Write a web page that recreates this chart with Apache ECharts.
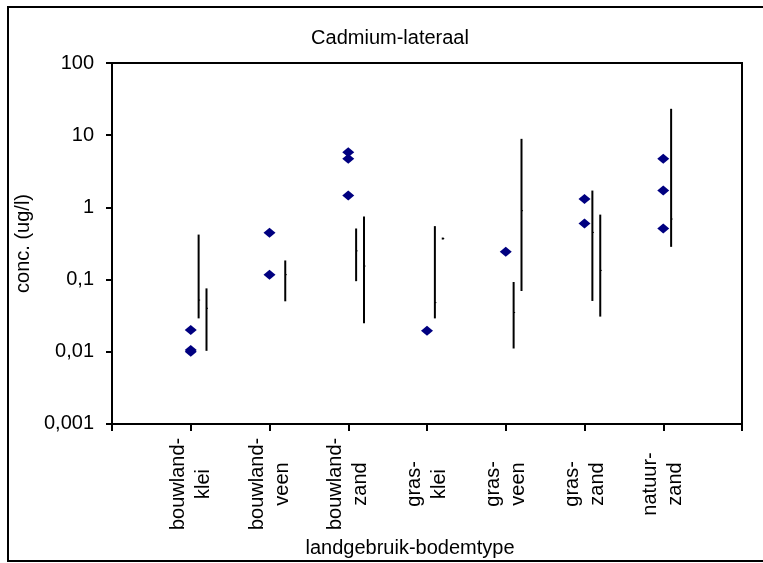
<!DOCTYPE html>
<html>
<head>
<meta charset="utf-8">
<script src="https://cdn.jsdelivr.net/npm/echarts@6/dist/echarts.min.js"></script>
<style>
  html, body { margin: 0; padding: 0; background: #fff; }
  #chart { width: 763px; height: 563px; }
</style>
</head>
<body>
<div id="chart"></div>
<script>
const categories = ["bouwland-\nklei", "bouwland-\nveen", "bouwland-\nzand", "gras-\nklei", "gras-\nveen", "gras-\nzand", "natuur-\nzand"];
const yTickLabels = ["0,001", "0,01", "0,1", "1", "10", "100"];

// measured points (diamonds): category number + concentration
const pointCategory = [1, 1, 1, 2, 2, 3, 3, 3, 4, 5, 6, 6, 7, 7, 7];
const pointValues = [0.02, 0.01, 0.0106, 0.445, 0.117, 5.8, 4.7, 1.46, 0.0195, 0.243, 1.31, 0.6, 4.7, 1.71, 0.51];

// first range per category (null = none)
const rangeAHigh = [0.42, null, 0.51, 0.55, 0.0925, 1.71, 23.2];
const rangeALow = [0.029, null, 0.095, 0.029, 0.0111, 0.0506, 0.284];
const rangeAMid = [0.052, null, 0.25, 0.048, 0.035, 0.45, 0.69];

// second range per category
const rangeBHigh = [0.0755, 0.184, 0.75, 0.37, 8.9, 0.794, null];
const rangeBLow = [0.0103, 0.05, 0.0248, 0.37, 0.0695, 0.0307, null];
const rangeBMid = [0.04, 0.117, 0.154, 0.37, 0.9, 0.134, null];

const FONT = "'Liberation Sans', Arial, sans-serif";

function rangeData(high, low, mid) {
    const out = [];
    for (let i = 0; i < high.length; i++) {
        if (high[i] == null) {
            continue;
        }
        out.push([i + 1, low[i], high[i], mid[i]]);
    }
    return out;
}

function rangeSeries(data, shift) {
    return {
        type: "custom",
        data: data,
        encode: { x: 0, y: [1, 2] },
        renderItem: function (params, api) {
            const x = api.value(0) + shift;
            const lo = api.coord([x, api.value(1)]);
            const hi = api.coord([x, api.value(2)]);
            const md = api.coord([x, api.value(3)]);
            let y1 = lo[1];
            let y2 = hi[1];
            if (y1 - y2 < 2) {
                y1 = y1 + 1;
                y2 = y2 - 1;
            }
            return {
                type: "group",
                children: [
                    {
                        type: "line",
                        shape: { x1: lo[0], y1: y1, x2: hi[0], y2: y2 },
                        style: { stroke: "#000", lineWidth: 2 }
                    },
                    {
                        type: "line",
                        shape: { x1: md[0], y1: md[1], x2: md[0] + 1.5, y2: md[1] },
                        style: { stroke: "#000", lineWidth: 1 }
                    }
                ]
            };
        }
    };
}

const chart = echarts.init(document.getElementById("chart"), null, { renderer: "canvas" });

const option = {
    animation: false,
    backgroundColor: "#fff",
    textStyle: { fontFamily: FONT, color: "#000" },
    title: {
        text: "Cadmium-lateraal",
        left: 390,
        top: 28,
        padding: 0,
        textAlign: "center",
        textStyle: { fontFamily: FONT, fontSize: 20, fontWeight: "normal", color: "#000" }
    },
    graphic: [
        {
            type: "rect",
            shape: { x: 8, y: 7, width: 800, height: 554 },
            style: { fill: null, stroke: "#000", lineWidth: 2 },
            silent: true
        }
    ],
    grid: {
        left: 112,
        right: 21,
        top: 63,
        bottom: 138,
        show: true,
        borderColor: "#000",
        borderWidth: 2,
        backgroundColor: "transparent"
    },
    xAxis: {
        type: "value",
        min: 0,
        max: 8,
        interval: 1,
        name: "landgebruik-bodemtype",
        nameLocation: "middle",
        nameGap: 103,
        nameTextStyle: {
            fontFamily: FONT,
            fontSize: 20,
            color: "#000",
            padding: [0, 34, 0, 0]
        },
        axisLine: { lineStyle: { color: "#000", width: 2 } },
        axisTick: { show: true, length: 7, lineStyle: { color: "#000", width: 2 } },
        splitLine: { show: false },
        axisLabel: {
            rotate: 90,
            align: "center",
            verticalAlign: "middle",
            margin: 60,
            lineHeight: 25,
            padding: [12, 0, 0, 0],
            fontFamily: FONT,
            fontSize: 20,
            color: "#000",
            formatter: function (value) {
                return categories[Math.round(value) - 1] || "";
            }
        }
    },
    yAxis: {
        type: "log",
        logBase: 10,
        min: 0.001,
        max: 100,
        name: "conc. (ug/l)",
        nameLocation: "middle",
        nameGap: 69,
        nameTextStyle: { fontFamily: FONT, fontSize: 20, color: "#000" },
        axisLine: { show: true, lineStyle: { color: "#000", width: 2 } },
        axisTick: { show: true, length: 6, lineStyle: { color: "#000", width: 2 } },
        minorTick: { show: false },
        splitLine: { show: false },
        axisLabel: {
            margin: 18,
            fontFamily: FONT,
            fontSize: 20,
            color: "#000",
            formatter: function (value) {
                const idx = Math.round(Math.log10(value)) + 3;
                return yTickLabels[idx] || "";
            }
        }
    },
    series: [
        rangeSeries(rangeData(rangeAHigh, rangeALow, rangeAMid), 0.1),
        rangeSeries(rangeData(rangeBHigh, rangeBLow, rangeBMid), 0.2),
        {
            type: "scatter",
            symbol: "diamond",
            symbolSize: [12, 10],
            itemStyle: { color: "#000080", opacity: 1 },
            data: pointCategory.map(function (c, i) { return [c, pointValues[i]]; })
        }
    ]
};

chart.setOption(option);
</script>
</body>
</html>
